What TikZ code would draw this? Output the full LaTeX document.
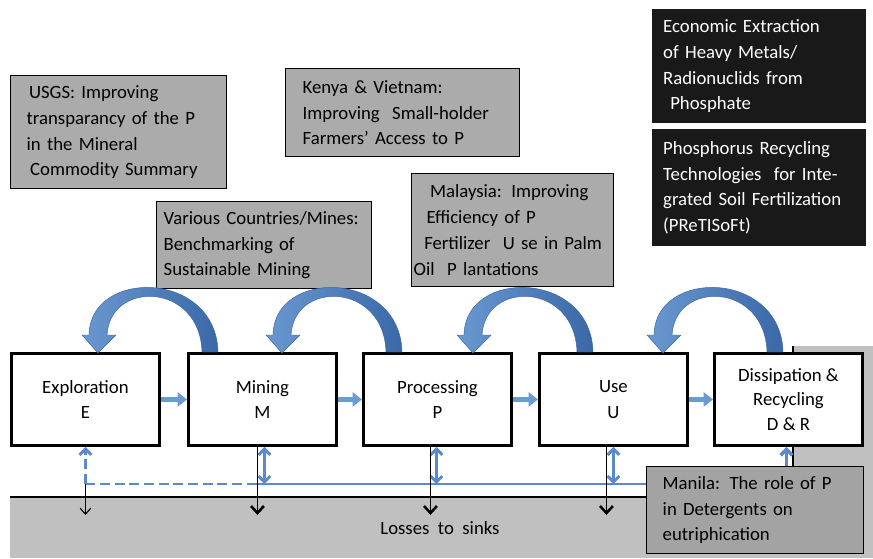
\documentclass[tikz,border=0pt]{standalone}
\usepackage{fontspec}
\setmainfont{Carlito}
\usetikzlibrary{arrows.meta,calc}
\definecolor{arcblue}{HTML}{4A7EBB}
\definecolor{arclight}{HTML}{6A98D0}
\definecolor{arcdark}{HTML}{3A68A8}
\definecolor{flowblue}{HTML}{6C9BD2}
\definecolor{linkblue}{HTML}{5A8ACB}
\definecolor{noteg}{HTML}{ABABAB}
\definecolor{groundg}{HTML}{C0C0C0}
\definecolor{manilag}{HTML}{A3A3A3}
\newcommand{\pu}{0.03cm}

\tikzset{
  stage/.style={draw, line width=2.5pt, fill=white, minimum width=148*\pu,
    minimum height=92*\pu, align=center, anchor=north west, inner sep=0pt},
  note/.style n args={3}{draw, line width=1.2pt, fill=noteg, anchor=north west,
    align=left, inner ysep=0pt, inner xsep=#3*\pu, text width=#1*\pu-2*#3*\pu,
    minimum height=#2*\pu},
  darknote/.style n args={3}{fill=black!90, text=white, anchor=north west,
    align=left, inner ysep=0pt, inner xsep=#3*\pu, text width=#1*\pu-2*#3*\pu,
    minimum height=#2*\pu},
  flow/.style={flowblue, line width=4.5pt, -{Triangle[width=12pt,length=8pt]}},
  feedback/.style={left color=arclight, right color=arcdark, draw=arcdark, line width=0.4pt},
  link/.style={linkblue, line width=2.5pt,
    {Straight Barb[length=5pt,width=10pt]}-{Straight Barb[length=5pt,width=10pt]}},
  linkline/.style={linkblue, line width=2.5pt},
  loss/.style={black, line width=1.2pt, -{Straight Barb[length=6pt,width=11pt,line width=2.2pt]}},
}

\begin{document}
\begin{tikzpicture}[x=\pu, y=-\pu, font=\fontsize{16}{22}\selectfont]
\useasboundingbox (0,0) rectangle (873,558);

% ground and right strip
\fill[groundg] (10,497) rectangle (873,558);
\fill[groundg] (793,346) rectangle (873,558);
\coordinate (rim) at (793,346);
\draw[line width=2pt] (rim) -- (rim |- 0,466);

% life cycle stages
\node[stage] (expl) at (10,352) {Exploration\\E};
\node[stage] (mine) at (187,352) {Mining\\M};
\node[stage] (proc) at (362,352) {Processing\\P};
\node[stage] (use) at (538,352) {Use\\U};
\node[stage, font=\fontsize{16}{21}\selectfont] (dr) at (713,352) {Dissipation \&\\Recycling\\D \& R};

% case studies
\node[note={216}{113}{16}] (usgs) at (10,75)
  {\hspace{2pt}USGS: Improving\\transparancy of the P\\in the Mineral\\\hspace{3pt}Commodity Summary};
\node[note={234}{88}{17}] (kenya) at (285,68)
  {Kenya \& Vietnam:\\Improving \ Small-holder\\Farmers’ Access to P};
\node[note={215}{87}{7}] (various) at (156,201)
  {Various Countries/Mines:\\Benchmarking of\\Sustainable Mining};
\node[note={202}{113}{2}] (malaysia) at (411,173)
  {\hspace{14pt}Malaysia: Improving\\\hspace{11pt}Efficiency of P\\\hspace{9pt}Fertilizer \ U se in Palm\\Oil \ P lantations};
\node[darknote={214}{114}{11}] (extract) at (652,9)
  {Economic Extraction\\of Heavy Metals/\\Radionuclids from\\\hspace{6pt}Phosphate};
\node[darknote={214}{117}{11}] (pretisoft) at (652,129)
  {Phosphorus Recycling\\Technologies \ for Inte-\\grated Soil Fertilization\\(PReTISoFt)};
\node[draw, line width=1.2pt, fill=manilag, anchor=north west, align=left,
  inner ysep=0pt, inner xsep=16*\pu, text width=185*\pu, minimum height=87*\pu]
  (manila) at (646,466)
  {Manila: The role of P\\in Detergents on\\eutriphication};

\node (sink) at (440,528) {Losses \ to \ sinks};
\draw[line width=2.5pt] (10,497) -- (manila.west |- 0,497);

% flows between stages
\foreach \a/\b in {expl/mine, mine/proc, proc/use, use/dr}
  \draw[flow] (\a.east) -- (\b.west);

% feedback arcs (tip on the earlier stage)
\foreach \dst/\dx in {expl/88, mine/95, proc/111, use/125}
  \path[feedback, shift={($(\dst.north west)+(\dx,0)$)}]
    (120,0) .. controls (118,-82) and (-8,-84) .. (-9,-17)
    -- (-16,-17) -- (0,1) -- (18,-17) -- (9,-17)
    .. controls (12,-72) and (102,-70) .. (104,0) -- cycle;

% link to Manila
\coordinate (lnk) at ($(manila.north west)+(0,18)$);
\coordinate (jn) at (expl.south |- lnk);
\coordinate (mlos) at ($(mine.south)+(-5,0)$);
\coordinate (mj) at (mlos |- lnk);
\draw[linkline] (mj) -- (lnk);
\draw[linkline, dash pattern=on 8.5pt off 4pt] (jn) -- (mj);
\draw[linkline, dash pattern=on 8.5pt off 4pt, -{Straight Barb[length=5pt,width=10pt]}] (jn) -- (expl.south);
\foreach \s/\o in {mine/2, proc/-1, use/0}
  \draw[link] ($(\s.south)+(\o,0)$) -- ($(\s.south |- lnk)+(\o,0)$);
\coordinate (du) at ($(dr.south)+(-2,0)$);
\draw[linkblue, line width=3pt, -{Straight Barb[length=5pt,width=10pt]}] (du |- manila.north) -- (du);

% losses
\draw[black, line width=1pt, -{Straight Barb[length=5pt,width=9pt]}] (jn) -- ++(0,31);
\draw[loss] (mlos) -- ++(0,68);
\foreach \s/\o in {proc/-7, use/-7}
  \draw[loss] ($(\s.south)+(\o,0)$) -- ++(0,68);
\end{tikzpicture}
\end{document}
